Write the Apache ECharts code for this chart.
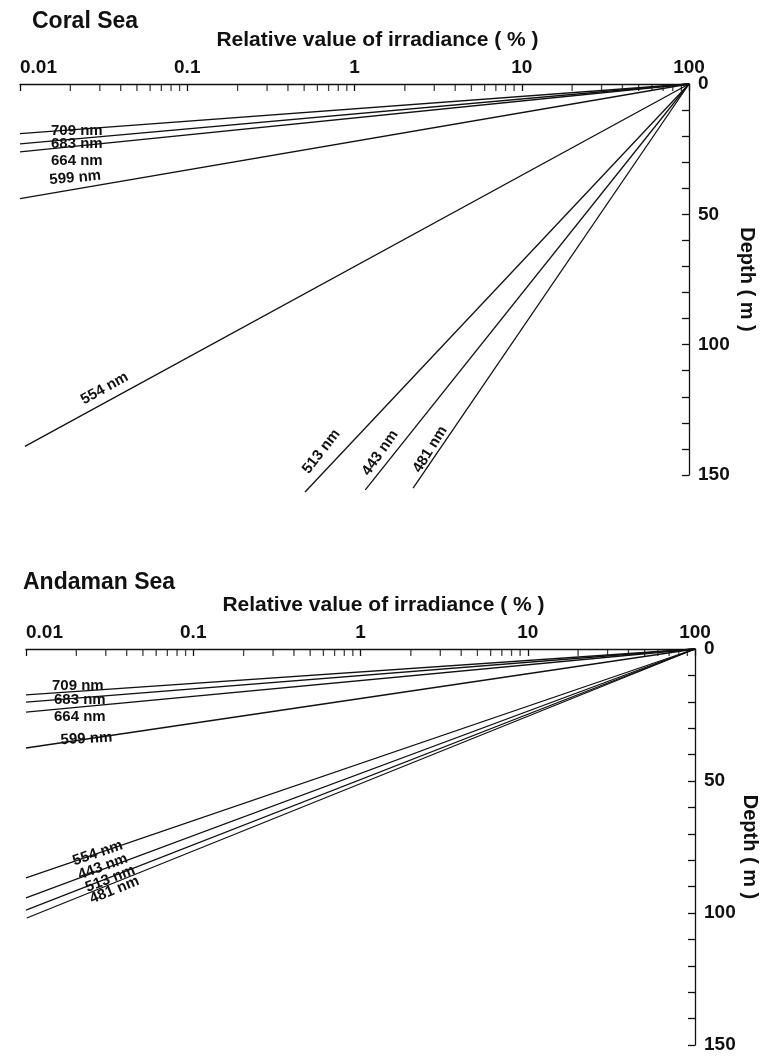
<!DOCTYPE html>
<html>
<head>
<meta charset="utf-8">
<script src="https://cdn.jsdelivr.net/npm/echarts@6/dist/echarts.min.js"></script>
<style>
html,body{margin:0;padding:0;background:#fff;}
#chart{width:761px;height:1062px;}
</style>
</head>
<body>
<div id="chart"></div>
<script>
// ---------- data ----------
const surfaceIrradiance = 100;   // % at depth 0
const surfaceDepth = 0;

const coralWavelengths = ['709 nm', '683 nm', '664 nm', '599 nm', '554 nm', '513 nm', '443 nm', '481 nm'];
const coralEndIrradiance = [0.01, 0.01, 0.01, 0.01, 0.0107, 0.506, 1.16, 2.24];
const coralEndDepth = [19, 23, 26, 44, 139, 156.5, 155.7, 155];

const andamanWavelengths = ['709 nm', '683 nm', '664 nm', '599 nm', '554 nm', '443 nm', '513 nm', '481 nm'];
const andamanEndIrradiance = [0.01, 0.01, 0.01, 0.01, 0.01, 0.01, 0.01, 0.0101];
const andamanEndDepth = [17.4, 20.1, 23.9, 37.5, 86.7, 94.3, 98.9, 101.9];

const irradianceTickLabels = ['0.01', '0.1', '1', '10', '100'];
const irradianceMinorTicks = [0.02, 0.03, 0.04, 0.05, 0.06, 0.07, 0.08, 0.09,
  0.2, 0.3, 0.4, 0.5, 0.6, 0.7, 0.8, 0.9,
  2, 3, 4, 5, 6, 7, 8, 9,
  20, 30, 40, 50, 60, 70, 80, 90];
const depthTickLabels = [0, 50, 100, 150];

const panelTitles = ['Coral Sea', 'Andaman Sea'];
const xAxisTitle = 'Relative value of irradiance ( % )';
const yAxisTitle = 'Depth ( m )';

// ---------- label placement (style) ----------
const coralLabelStyle = [
  {offset: [31, -3], rotate: 0},
  {offset: [31, 0], rotate: 0},
  {offset: [31, 9], rotate: 0},
  {offset: [31, -16], rotate: 5},
  {offset: [72, -12], rotate: 29},
  {offset: [16, -12], rotate: 52},
  {offset: [13, -9], rotate: 55},
  {offset: [16, -6], rotate: 58}
];
const andamanLabelStyle = [
  {offset: [26, -9], rotate: 0},
  {offset: [28, -2], rotate: 0},
  {offset: [28, 5], rotate: 0},
  {offset: [35, -6], rotate: 3},
  {offset: [50, 0], rotate: 19},
  {offset: [57, -3], rotate: 20},
  {offset: [64, 1], rotate: 21},
  {offset: [66, 7], rotate: 22}
];
const yNameGaps = [48, 45];

const INK = '#111';
const FONT = "'Liberation Sans', Arial, Helvetica, sans-serif";

function lineSeries(names, endX, endY, labelStyle, gridIdx) {
  return names.map((name, i) => ({
    type: 'line',
    name: name,
    xAxisIndex: gridIdx,
    yAxisIndex: gridIdx,
    clip: false,
    silent: true,
    animation: false,
    symbol: 'circle',
    symbolSize: 0,
    showSymbol: true,
    lineStyle: {color: INK, width: 1.3},
    itemStyle: {color: INK},
    label: {show: false},
    emphasis: {disabled: true},
    data: [
      [surfaceIrradiance, surfaceDepth],
      {
        value: [endX[i], endY[i]],
        label: {
          show: true,
          formatter: name,
          position: 'inside',
          align: 'left',
          verticalAlign: 'middle',
          offset: labelStyle[i].offset,
          rotate: labelStyle[i].rotate,
          color: INK,
          fontSize: 15,
          fontWeight: 'bold',
          fontFamily: FONT
        }
      }
    ]
  }));
}

function minorTickSeries(gridIdx) {
  return {
    type: 'scatter',
    xAxisIndex: gridIdx,
    yAxisIndex: gridIdx,
    clip: false,
    silent: true,
    animation: false,
    symbol: 'rect',
    symbolSize: [1.3, 7],
    symbolOffset: [0, 3.5],
    itemStyle: {color: INK},
    emphasis: {disabled: true},
    data: irradianceMinorTicks.map(v => [v, 0])
  };
}

function xAxis(gridIdx) {
  return {
    type: 'log',
    logBase: 10,
    gridIndex: gridIdx,
    position: 'top',
    min: 0.01,
    max: 100,
    name: xAxisTitle,
    nameLocation: 'middle',
    nameGap: 33,
    nameMoveOverlap: false,
    nameTextStyle: {fontSize: 21, fontWeight: 'bold', color: INK, fontFamily: FONT, padding: [0, 0, 0, 46]},
    axisLine: {show: true, lineStyle: {color: INK, width: 1.3}},
    axisTick: {show: true, inside: true, length: 7, lineStyle: {color: INK, width: 1.3}},
    axisLabel: {
      show: true,
      margin: 7,
      fontSize: 19,
      fontWeight: 'bold',
      color: INK,
      fontFamily: FONT,
      alignMinLabel: 'left',
      formatter: function (v) {
        const k = Math.round(Math.log10(v)) + 2;
        return irradianceTickLabels[k] !== undefined ? irradianceTickLabels[k] : '';
      }
    },
    splitLine: {show: false}
  };
}

function yAxis(gridIdx) {
  return {
    type: 'value',
    gridIndex: gridIdx,
    position: 'right',
    inverse: true,
    min: 0,
    max: 150,
    interval: 10,
    name: yAxisTitle,
    nameLocation: 'middle',
    nameRotate: -90,
    nameGap: yNameGaps[gridIdx],
    nameMoveOverlap: false,
    nameTextStyle: {fontSize: 20, fontWeight: 'bold', color: INK, fontFamily: FONT},
    axisLine: {show: true, lineStyle: {color: INK, width: 1.3}},
    axisTick: {show: true, inside: true, length: 7, lineStyle: {color: INK, width: 1.3}},
    axisLabel: {
      show: true,
      margin: 9,
      fontSize: 19,
      fontWeight: 'bold',
      color: INK,
      fontFamily: FONT,
      formatter: function (v) { return depthTickLabels.indexOf(v) >= 0 ? String(v) : ''; }
    },
    splitLine: {show: false}
  };
}

const chart = echarts.init(document.getElementById('chart'), null, {renderer: 'canvas'});
chart.setOption({
  animation: false,
  backgroundColor: '#fff',
  textStyle: {fontFamily: FONT, color: INK},
  title: [
    {text: panelTitles[0], left: 32, top: 10, padding: 0, textStyle: {fontSize: 23, fontWeight: 'bold', color: INK, fontFamily: FONT}},
    {text: panelTitles[1], left: 23, top: 571, padding: 0, textStyle: {fontSize: 23, fontWeight: 'bold', color: INK, fontFamily: FONT}}
  ],
  grid: [
    {left: 20, right: 72, top: 84, height: 391, outerBoundsMode: 'none', containLabel: false},
    {left: 26, right: 66, top: 649, height: 396, outerBoundsMode: 'none', containLabel: false}
  ],
  xAxis: [xAxis(0), xAxis(1)],
  yAxis: [yAxis(0), yAxis(1)],
  series: [].concat(
    lineSeries(coralWavelengths, coralEndIrradiance, coralEndDepth, coralLabelStyle, 0),
    lineSeries(andamanWavelengths, andamanEndIrradiance, andamanEndDepth, andamanLabelStyle, 1),
    [minorTickSeries(0), minorTickSeries(1)]
  )
});
</script>
</body>
</html>
